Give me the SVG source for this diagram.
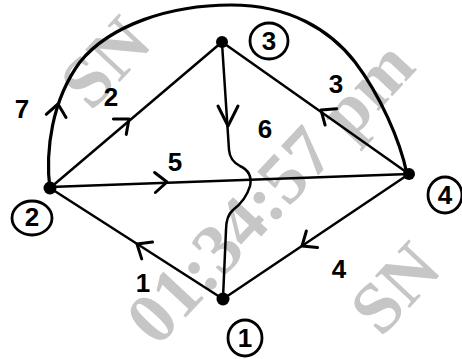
<svg xmlns="http://www.w3.org/2000/svg" xmlns:xlink="http://www.w3.org/1999/xlink" width="462" height="359" viewBox="0 0 462 359">
<style>
.wm{font-family:"Liberation Serif",serif;font-weight:bold;font-size:72px;fill:#c6c6c6}
.edge{fill:none;stroke:#000;stroke-width:2.5;stroke-linecap:round;stroke-linejoin:round}
.arc{fill:none;stroke:#000;stroke-width:3.2;stroke-linecap:round}
.arr{fill:none;stroke:#000;stroke-width:3;stroke-linecap:round;stroke-linejoin:round}
.lbl{font-family:"Liberation Sans",Arial,sans-serif;font-weight:bold;font-size:26px;fill:#000;text-anchor:middle}
.ring{fill:none;stroke:#000;stroke-width:2.8}
.dot{fill:#000}
</style>
<defs>
<path id="chev" class="arr" d="M-12,-10 L0,0 L-12,10"/>
</defs>
<rect width="462" height="359" fill="#fff"/>
<g id="watermark">
<text class="wm" font-size="62" transform="translate(76,98) rotate(-47)" y="21">SN</text>
<text class="wm" transform="translate(270,192) rotate(-47)" y="24" text-anchor="middle">01:34:57 pm</text>
<text class="wm" font-size="54" transform="translate(368,326) rotate(-47)" y="18">SN</text>
</g>
<g id="connectors">
<path id="e7" class="arc" d="M50,190 C45,150 52,100 80,62 C110,25 170,5 231,5 C290,5 330,30 355,62 C380,95 400,140 407,174"/>
<use href="#chev" transform="translate(58,104) rotate(-81)"/>
<text class="lbl" x="22" y="118" font-size="30">7</text>
<path id="e2" class="edge" d="M50,188 L222,42"/>
<use href="#chev" transform="translate(129,119) rotate(-40)"/>
<text class="lbl" x="111" y="106">2</text>
<path id="e3" class="edge" d="M409,174 L222,42"/>
<use href="#chev" transform="translate(321,110) rotate(-145)"/>
<text class="lbl" x="336" y="93">3</text>
<path id="e6" class="edge" d="M222,43 L229,150 Q230,161 240,166 Q253,172 250,186 Q246,200 233,210 Q226,216 226,230 L223,298"/>
<path class="arr" stroke-width="4" d="M218,106 L228,126 L238,106"/>
<text class="lbl" x="265" y="138">6</text>
<path id="e5" class="edge" d="M50,187 L409,174"/>
<use href="#chev" transform="translate(167,182) rotate(-2.4)"/>
<text class="lbl" x="175" y="171">5</text>
<path id="e1" class="edge" d="M223,299 L50,188"/>
<use href="#chev" transform="translate(137,244) rotate(212.7)"/>
<text class="lbl" x="143" y="292">1</text>
<path id="e4" class="edge" d="M409,174 L223,299"/>
<use href="#chev" transform="translate(302,246) rotate(146)"/>
<text class="lbl" x="339" y="278">4</text>
</g>
<g id="node3">
<circle class="dot" cx="222" cy="42" r="6"/>
<ellipse class="ring" cx="269" cy="41" rx="19" ry="18"/>
<text class="lbl" x="269" y="50">3</text>
</g>
<g id="node2">
<circle class="dot" cx="50" cy="188" r="6.5"/>
<ellipse class="ring" cx="32" cy="218" rx="20" ry="17"/>
<text class="lbl" x="32" y="226" font-size="22">2</text>
</g>
<g id="node4">
<circle class="dot" cx="409" cy="174" r="6"/>
<ellipse class="ring" cx="445" cy="195" rx="17" ry="18"/>
<text class="lbl" x="445" y="204">4</text>
</g>
<g id="node1">
<circle class="dot" cx="223" cy="299" r="6.5"/>
<ellipse class="ring" cx="245" cy="338" rx="17" ry="18"/>
<text class="lbl" x="245" y="347" font-size="24">1</text>
</g>
</svg>
